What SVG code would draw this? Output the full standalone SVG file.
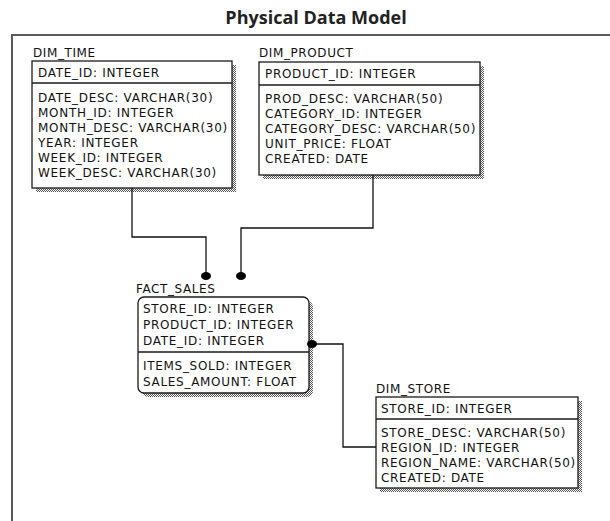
<svg xmlns="http://www.w3.org/2000/svg" width="610" height="521" viewBox="0 0 610 521">
  <defs>
    <!-- dithered drop shadow used behind every table -->
    <pattern id="dither" width="2" height="2" patternUnits="userSpaceOnUse">
      <rect width="2" height="2" fill="#ffffff"/>
      <rect x="0" y="0" width="1" height="1" fill="#555555"/>
      <rect x="1" y="1" width="1" height="1" fill="#555555"/>
    </pattern>
    <!-- filled dot at the "many" end of a relationship -->
    <marker id="dotv" viewBox="0 0 11 9" refX="5.5" refY="4.5" markerWidth="11" markerHeight="9" markerUnits="userSpaceOnUse">
      <ellipse cx="5.5" cy="4.5" rx="5" ry="4" fill="#000"/>
    </marker>
  </defs>
  <style>
    .title { font-family: "Open Sans", "DejaVu Sans", sans-serif; font-weight: bold; font-size: 18px; fill: #222; }
    .frame { fill: none; stroke: #5a5a5a; stroke-width: 2; }
    .label { font-family: "DejaVu Sans", "Liberation Sans", sans-serif; font-size: 12px; letter-spacing: 0.6px; fill: #111; }
    .col { font-family: "DejaVu Sans", "Liberation Sans", sans-serif; font-size: 12px; letter-spacing: 0.7px; fill: #111; }
    .box { fill: #ffffff; stroke: #1a1a1a; stroke-width: 1.3; }
    .shadow { fill: url(#dither); }
    .div { stroke: #1a1a1a; stroke-width: 1.3; }
    .conn { fill: none; stroke: #111; stroke-width: 1.3; }
  </style>

  <rect width="610" height="521" fill="#ffffff"/>
  <text class="title" x="316" y="24" text-anchor="middle">Physical Data Model</text>
  <path class="frame" d="M12,521 V35 H610"/>

  <g id="dim_time">
    <text class="label" x="33" y="57">DIM_TIME</text>
    <rect class="shadow" x="36" y="65" width="200" height="127"/>
    <rect class="box" x="32" y="61" width="200" height="127"/>
    <line class="div" x1="32" y1="83" x2="232" y2="83"/>
    <text class="col" x="38" y="77">DATE_ID: INTEGER</text>
    <text class="col" x="38" y="102">DATE_DESC: VARCHAR(30)</text>
    <text class="col" x="38" y="117">MONTH_ID: INTEGER</text>
    <text class="col" x="38" y="132">MONTH_DESC: VARCHAR(30)</text>
    <text class="col" x="38" y="147">YEAR: INTEGER</text>
    <text class="col" x="38" y="162">WEEK_ID: INTEGER</text>
    <text class="col" x="38" y="177">WEEK_DESC: VARCHAR(30)</text>
  </g>

  <g id="dim_product">
    <text class="label" x="259" y="57">DIM_PRODUCT</text>
    <rect class="shadow" x="263" y="66" width="221" height="113"/>
    <rect class="box" x="259" y="62" width="221" height="113"/>
    <line class="div" x1="259" y1="85" x2="480" y2="85"/>
    <text class="col" x="265" y="78">PRODUCT_ID: INTEGER</text>
    <text class="col" x="265" y="103">PROD_DESC: VARCHAR(50)</text>
    <text class="col" x="265" y="118">CATEGORY_ID: INTEGER</text>
    <text class="col" x="265" y="133">CATEGORY_DESC: VARCHAR(50)</text>
    <text class="col" x="265" y="148">UNIT_PRICE: FLOAT</text>
    <text class="col" x="265" y="163">CREATED: DATE</text>
  </g>

  <g id="fact_sales">
    <text class="label" x="136" y="293">FACT_SALES</text>
    <rect class="shadow" x="142" y="301" width="171" height="96" rx="6"/>
    <rect class="box" x="138" y="297" width="171" height="96" rx="6"/>
    <line class="div" x1="138" y1="352" x2="309" y2="352"/>
    <text class="col" x="143" y="313">STORE_ID: INTEGER</text>
    <text class="col" x="143" y="329">PRODUCT_ID: INTEGER</text>
    <text class="col" x="143" y="345">DATE_ID: INTEGER</text>
    <text class="col" x="143" y="370">ITEMS_SOLD: INTEGER</text>
    <text class="col" x="143" y="386">SALES_AMOUNT: FLOAT</text>
  </g>

  <g id="dim_store">
    <text class="label" x="376" y="393">DIM_STORE</text>
    <rect class="shadow" x="380" y="401" width="202" height="91"/>
    <rect class="box" x="376" y="397" width="202" height="91"/>
    <line class="div" x1="376" y1="419" x2="578" y2="419"/>
    <text class="col" x="381" y="413">STORE_ID: INTEGER</text>
    <text class="col" x="381" y="437">STORE_DESC: VARCHAR(50)</text>
    <text class="col" x="381" y="452">REGION_ID: INTEGER</text>
    <text class="col" x="381" y="467">REGION_NAME: VARCHAR(50)</text>
    <text class="col" x="381" y="482">CREATED: DATE</text>
  </g>

  <g id="connectors">
    <path class="conn" d="M132,188 V237 H206 V276" marker-end="url(#dotv)"/>
    <path class="conn" d="M373,175 V228 H241 V276" marker-end="url(#dotv)"/>
    <path class="conn" d="M312,344 H343 V447 H376" marker-start="url(#dotv)"/>
  </g>
</svg>
